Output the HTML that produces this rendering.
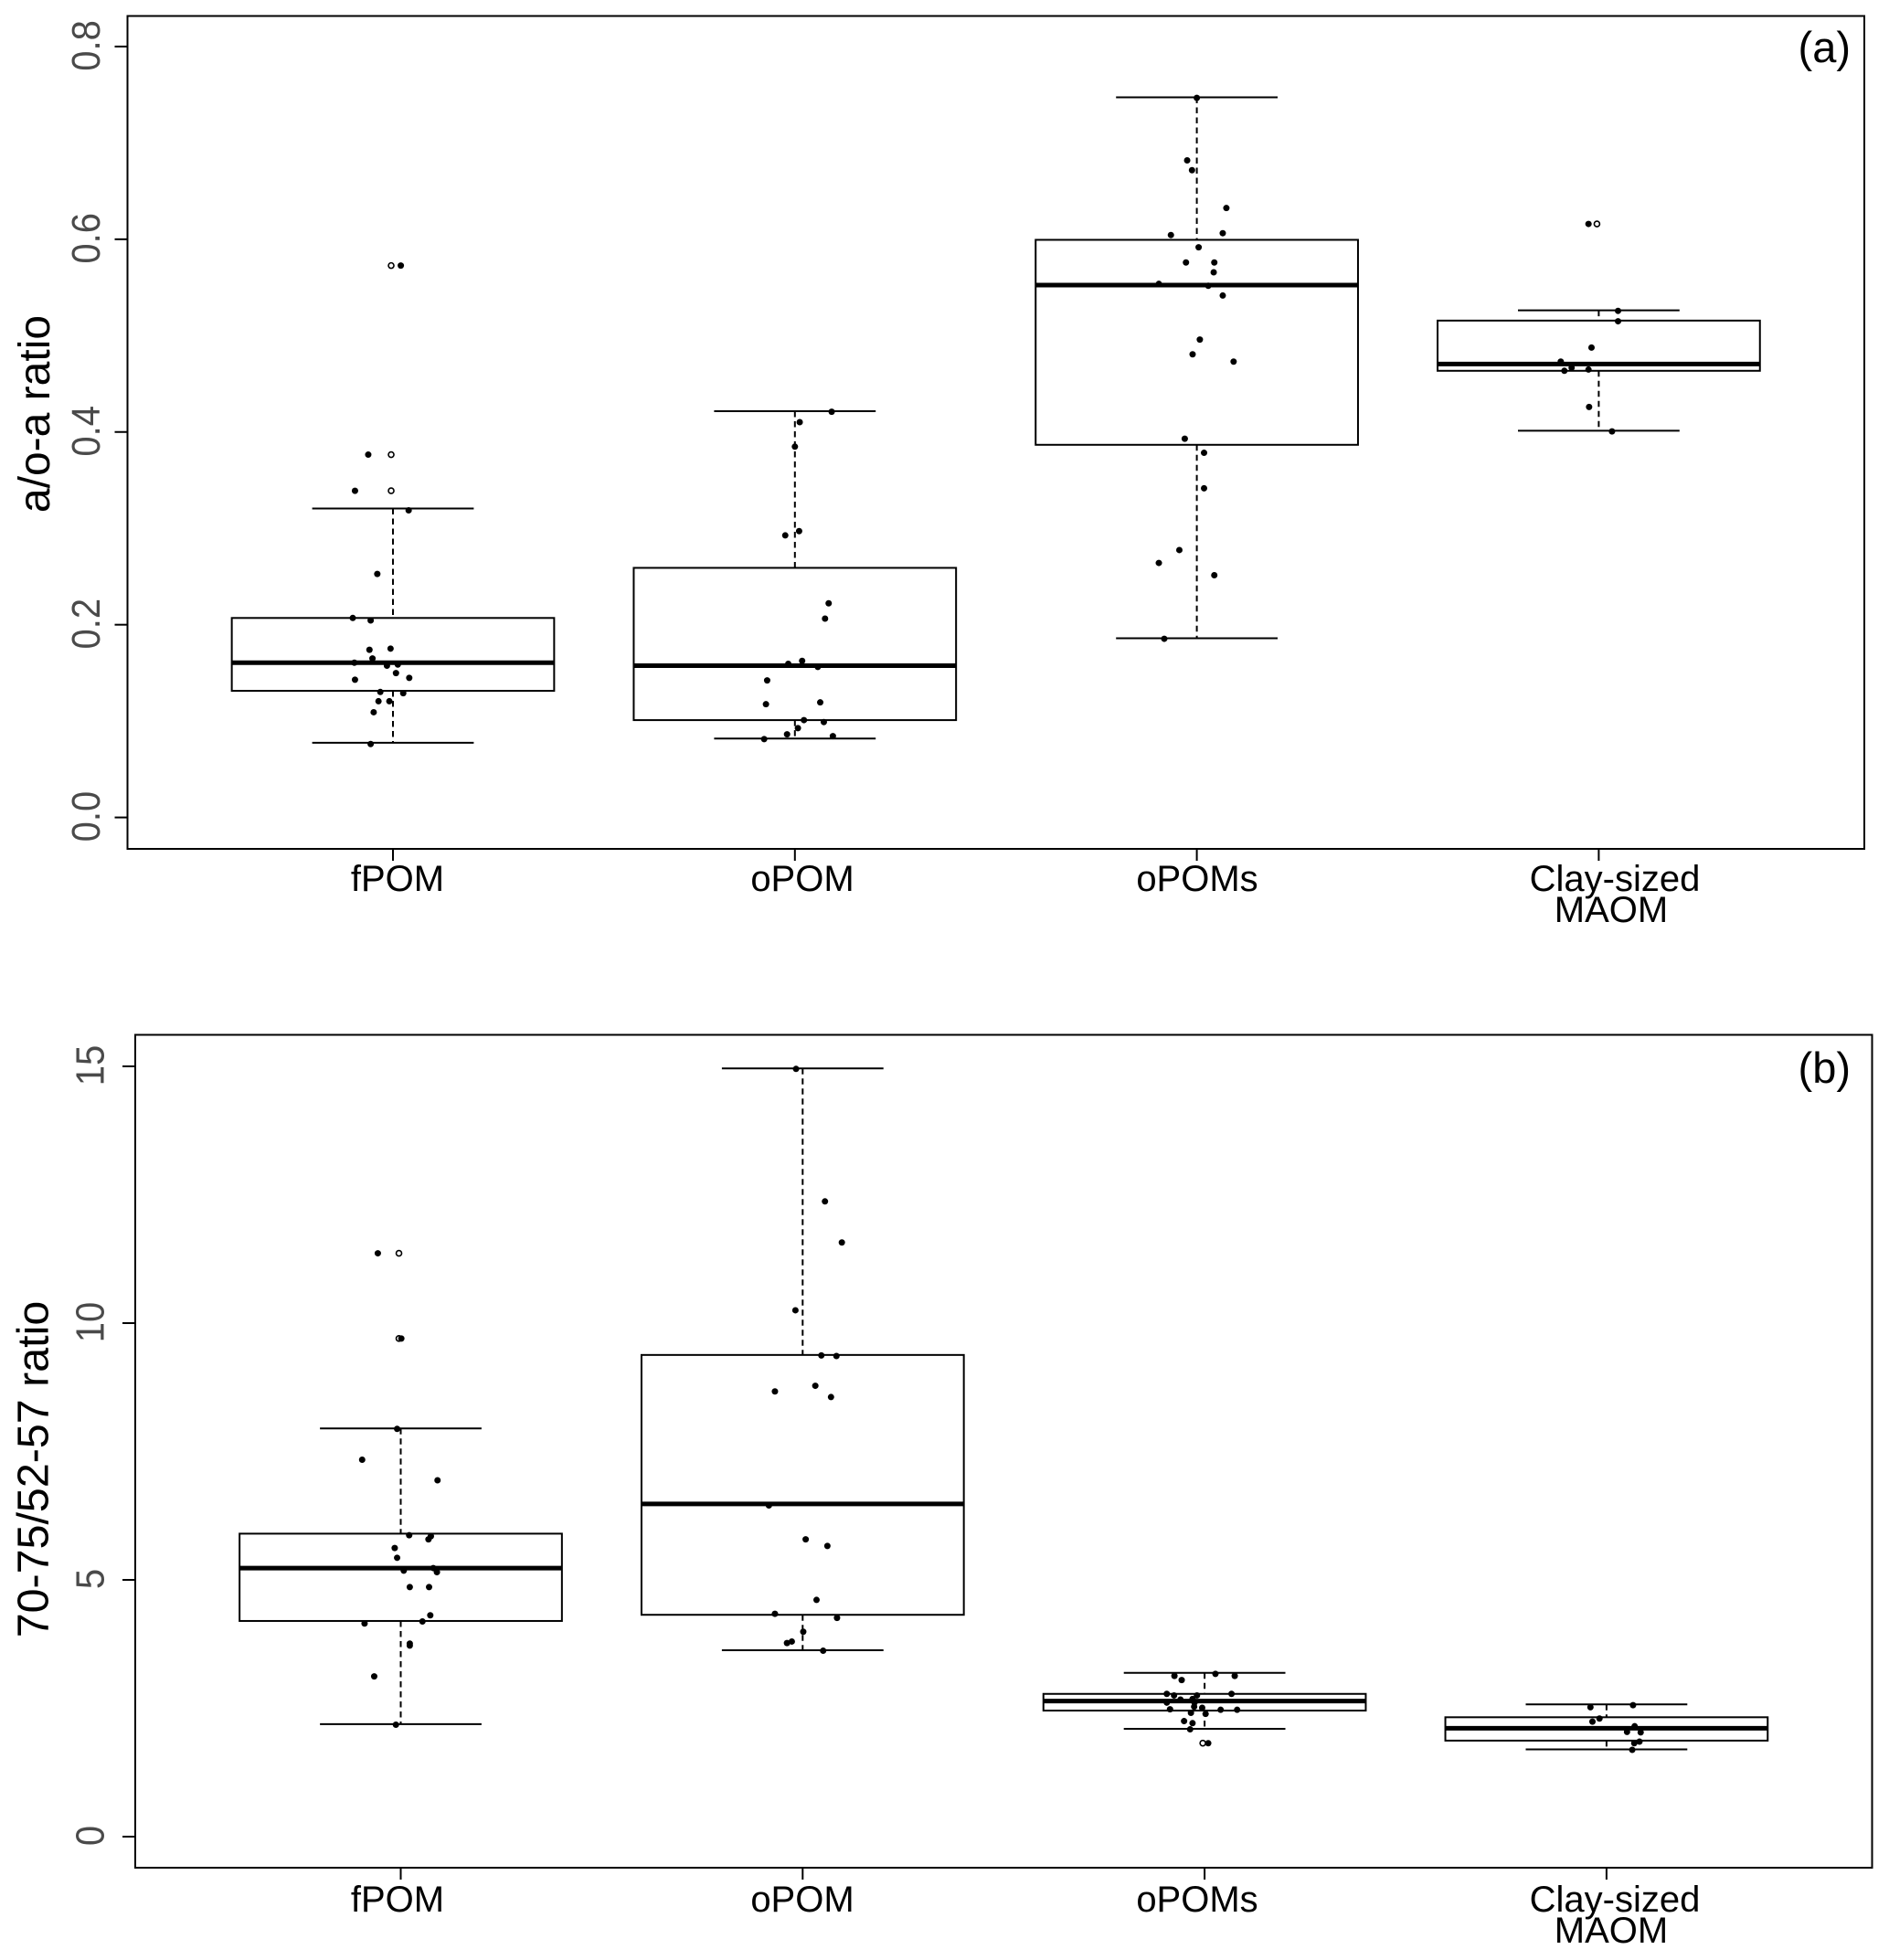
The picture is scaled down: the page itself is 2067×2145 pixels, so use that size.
<!DOCTYPE html>
<html lang="en">
<head>
<meta charset="utf-8">
<title>Boxplots of a/o-a ratio and 70-75/52-57 ratio</title>
<style>
html,body{margin:0;padding:0;background:#fff;}
svg{display:block;font-family:"Liberation Sans",Arial,sans-serif;}
</style>
</head>
<body>
<svg id="chart" xmlns="http://www.w3.org/2000/svg" width="2067" height="2145" viewBox="0 0 2067 2145">
  <rect width="2067" height="2145" fill="#fff"/>
  <g id="panel-a"></g>
  <g id="panel-b"></g>
  <g font-size="40" fill="#000" text-anchor="middle">
    <text x="435" y="975">fPOM</text>
    <text x="878" y="975">oPOM</text>
    <text x="1310" y="975">oPOMs</text>
    <text x="1767" y="975">Clay-sized</text>
    <text x="1763" y="1009">MAOM</text>
  </g>
  <g font-size="40" fill="#000" text-anchor="middle">
    <text x="435" y="2092">fPOM</text>
    <text x="878" y="2092">oPOM</text>
    <text x="1310" y="2092">oPOMs</text>
    <text x="1767" y="2092">Clay-sized</text>
    <text x="1763" y="2126">MAOM</text>
  </g>
  <text font-size="48" fill="#000" text-anchor="middle" transform="translate(54,453) rotate(-90)">a/o-a ratio</text>
  <text font-size="48.4" fill="#000" text-anchor="middle" transform="translate(52.5,1608) rotate(-90)">70-75/52-57 ratio</text>
  <text font-size="47" fill="#000" text-anchor="end" x="2025" y="68">(a)</text>
  <text font-size="47" fill="#000" text-anchor="end" x="2025" y="1185">(b)</text>
</svg>
<script>
// ---- Panel (a): a/o-a ratio ----
const aTicks = [0, 0.2, 0.4, 0.6, 0.8];
const aTickLabels = ['0.0', '0.2', '0.4', '0.6', '0.8'];
const aQ1 = [0.1314, 0.101, 0.3867, 0.4635];
const aMedian = [0.1606, 0.1575, 0.5524, 0.4705];
const aQ3 = [0.207, 0.259, 0.5994, 0.5156];
const aWhiskerLow = [0.0775, 0.0819, 0.186, 0.4013];
const aWhiskerHigh = [0.3206, 0.4216, 0.7473, 0.5263];
const aOutliers = [[0.5727, 0.3765, 0.339], [], [], [0.6159]];
const aValuesFpom = [0.5727, 0.3765, 0.339, 0.3187, 0.2527, 0.207, 0.2044, 0.174, 0.1752, 0.165, 0.1606, 0.1575, 0.1587, 0.1498, 0.1429, 0.1448, 0.1302, 0.1289, 0.1206, 0.1206, 0.1092, 0.0762];
const aJitterFpom = [0.0195, -0.0615, -0.0945, 0.039, -0.039, -0.1, -0.0555, -0.0585, -0.006, -0.051, -0.096, -0.015, 0.012, 0.0075, -0.0945, 0.0405, -0.0315, 0.0255, -0.036, -0.009, -0.048, -0.0555];
const aValuesOpom = [0.421, 0.4102, 0.3848, 0.2927, 0.2971, 0.2222, 0.2063, 0.1625, 0.1594, 0.1562, 0.1422, 0.1175, 0.1194, 0.101, 0.099, 0.0927, 0.0863, 0.0844, 0.0813];
const aJitterOpom = [0.0915, 0.012, 0, -0.024, 0.0105, 0.084, 0.075, 0.018, -0.0165, 0.057, -0.069, -0.072, 0.063, 0.0225, 0.072, 0.0075, -0.0195, 0.0945, -0.0765];
const aValuesOpoms = [0.7467, 0.6819, 0.6717, 0.6324, 0.6044, 0.6063, 0.5917, 0.5759, 0.5759, 0.5657, 0.5537, 0.5517, 0.5416, 0.4959, 0.4806, 0.473, 0.393, 0.3784, 0.3416, 0.2775, 0.2641, 0.2514, 0.1854];
const aJitterOpoms = [0, -0.024, -0.012, 0.0735, -0.0645, 0.0645, 0.0045, -0.027, 0.0435, 0.042, -0.0945, 0.0285, 0.0645, 0.0075, -0.0105, 0.0915, -0.03, 0.018, 0.018, -0.0435, -0.0945, 0.0435, -0.081];
const aValuesClay = [0.6159, 0.5257, 0.5149, 0.4876, 0.473, 0.4667, 0.4635, 0.4648, 0.426, 0.4006];
const aJitterClay = [-0.0255, 0.048, 0.048, -0.018, -0.0945, -0.0675, -0.0855, -0.0255, -0.024, 0.033];

// ---- Panel (b): 70-75/52-57 ratio ----
const bTicks = [0, 5, 10, 15];
const bTickLabels = ['0', '5', '10', '15'];
const bQ1 = [4.2, 4.32, 2.455, 1.87];
const bMedian = [5.23, 6.48, 2.64, 2.11];
const bQ3 = [5.9, 9.38, 2.78, 2.325];
const bWhiskerLow = [2.19, 3.63, 2.1, 1.7];
const bWhiskerHigh = [7.95, 14.96, 3.19, 2.575];
const bOutliers = [[11.36, 9.7], [], [1.82], []];
const bValuesFpom = [11.36, 9.7, 7.94, 7.34, 6.94, 5.87, 5.85, 5.79, 5.62, 5.43, 5.23, 5.18, 5.15, 4.86, 4.86, 4.31, 4.19, 4.15, 3.76, 3.72, 3.12, 2.18];
const bJitterFpom = [-0.057, 0.0015, -0.009, -0.096, 0.0915, 0.021, 0.075, 0.069, -0.015, -0.009, 0.081, 0.0075, 0.09, 0.0225, 0.0705, 0.0735, 0.054, -0.09, 0.0225, 0.0225, -0.066, -0.012];
const bValuesOpom = [14.95, 12.37, 11.57, 10.25, 9.37, 9.36, 8.78, 8.67, 8.56, 6.45, 5.79, 5.66, 4.61, 4.34, 4.26, 3.99, 3.8, 3.77, 3.62];
const bJitterOpom = [-0.0165, 0.0555, 0.0975, -0.018, 0.0465, 0.084, 0.0315, -0.069, 0.0705, -0.084, 0.0075, 0.0615, 0.0345, -0.069, 0.0855, 0.0015, -0.027, -0.039, 0.051];
const bValuesOpoms = [3.13, 3.05, 3.17, 3.13, 2.78, 2.75, 2.78, 2.75, 2.67, 2.68, 2.61, 2.61, 2.53, 2.51, 2.48, 2.47, 2.47, 2.41, 2.39, 2.25, 2.21, 2.09, 1.82];
const bJitterOpoms = [-0.075, -0.057, 0.027, 0.075, -0.094, -0.076, 0.067, -0.019, -0.06, -0.03, -0.094, -0.025, -0.026, -0.006, -0.086, 0.04, 0.081, -0.034, 0.0025, -0.051, -0.03, -0.036, 0.009];
const bValuesClay = [2.56, 2.52, 2.3, 2.24, 2.15, 2.04, 2.03, 1.85, 1.82, 1.69];
const bJitterClay = [0.066, -0.04, -0.0175, -0.035, 0.07, 0.051, 0.085, 0.082, 0.069, 0.064];

const categories = ['fPOM', 'oPOM', 'oPOMs', 'Clay-sized MAOM'];
const categoryKeys = ['fpom', 'opom', 'opoms', 'clay'];

const SVG_NS = 'http://www.w3.org/2000/svg';

function make(parent, tag, attrs) {
  const el = document.createElementNS(SVG_NS, tag);
  for (const k in attrs) el.setAttribute(k, attrs[k]);
  parent.appendChild(el);
  return el;
}

function drawPanel(cfg) {
  const root = document.getElementById(cfg.id);
  const xAxis = (pos) => cfg.x0 + pos * cfg.step;
  const yAxis = (v) => cfg.yZero - v * cfg.yUnit;
  const STROKE = 2;

  // frame
  const frame = make(root, 'rect', {x: cfg.left, y: cfg.top, width: cfg.right - cfg.left, height: cfg.bottom - cfg.top, fill: 'none', stroke: '#000', 'stroke-width': STROKE});
  
  

  // y ticks
  cfg.ticks.forEach((t, i) => {
    const y = yAxis(t);
    const tick = make(root, 'line', {x1: cfg.left - 14, x2: cfg.left, y1: y, y2: y, stroke: '#000', 'stroke-width': STROKE});
    
    
    const label = make(root, 'text', {'font-size': 40, fill: '#4a4a4a', 'text-anchor': 'middle', transform: 'translate(' + cfg.tickBase + ',' + (y - 1) + ') rotate(-90) scale(1,1.08)'});
    label.textContent = cfg.tickLabels[i];
    
    
  });

  categories.forEach((name, i) => {
    const cx = xAxis(i);
    const key = categoryKeys[i];

    const xTick = make(root, 'line', {x1: cx, x2: cx, y1: cfg.bottom, y2: cfg.bottom + 13, stroke: '#000', 'stroke-width': STROKE});
    
    

    const group = make(root, 'g', {});
    
    

    const boxHalf = cfg.step * 0.401;
    const capHalf = cfg.step * 0.201;

    [[cfg.q3[i], cfg.hi[i]], [cfg.lo[i], cfg.q1[i]]].forEach((pair) => {
      const w = make(group, 'line', {x1: cx, x2: cx, y1: yAxis(pair[1]), y2: yAxis(pair[0]), stroke: '#000', 'stroke-width': STROKE, 'stroke-dasharray': '6.5 4.5'});
      
      
    });
    [cfg.hi[i], cfg.lo[i]].forEach((v) => {
      const c = make(group, 'line', {x1: cx - capHalf, x2: cx + capHalf, y1: yAxis(v), y2: yAxis(v), stroke: '#000', 'stroke-width': STROKE});
      
      
    });
    const box = make(group, 'rect', {x: cx - boxHalf, width: 2 * boxHalf, y: yAxis(cfg.q3[i]), height: yAxis(cfg.q1[i]) - yAxis(cfg.q3[i]), fill: 'none', stroke: '#000', 'stroke-width': STROKE});
    
    
    const med = make(group, 'line', {x1: cx - boxHalf, x2: cx + boxHalf, y1: yAxis(cfg.median[i]), y2: yAxis(cfg.median[i]), stroke: '#000', 'stroke-width': 5});
    
    

    cfg.outliers[i].forEach((v) => {
      const o = make(group, 'circle', {cx: xAxis(i - 0.0045), cy: yAxis(v), r: 3, fill: '#fff', stroke: '#000', 'stroke-width': 1.6});
      
      
    });

    cfg.values[i].forEach((v, n) => {
      const p = make(group, 'circle', {cx: xAxis(i + cfg.jitter[i][n]), cy: yAxis(v), r: 3.5, fill: '#000'});
      
      
    });
  });
}

drawPanel({
  id: 'panel-a', left: 139.5, right: 2040, top: 17.5, bottom: 929,
  x0: 430, step: 439.8, yZero: 894.6, yUnit: 1054.6, tickBase: 109,
  ticks: aTicks, tickLabels: aTickLabels,
  q1: aQ1, median: aMedian, q3: aQ3, lo: aWhiskerLow, hi: aWhiskerHigh, outliers: aOutliers,
  values: [aValuesFpom, aValuesOpom, aValuesOpoms, aValuesClay],
  jitter: [aJitterFpom, aJitterOpom, aJitterOpoms, aJitterClay]
});
drawPanel({
  id: 'panel-b', left: 148, right: 2048.5, top: 1132.5, bottom: 2044,
  x0: 438.5, step: 439.8, yZero: 2010, yUnit: 56.2, tickBase: 113.5,
  ticks: bTicks, tickLabels: bTickLabels,
  q1: bQ1, median: bMedian, q3: bQ3, lo: bWhiskerLow, hi: bWhiskerHigh, outliers: bOutliers,
  values: [bValuesFpom, bValuesOpom, bValuesOpoms, bValuesClay],
  jitter: [bJitterFpom, bJitterOpom, bJitterOpoms, bJitterClay]
});
</script>
</body>
</html>
